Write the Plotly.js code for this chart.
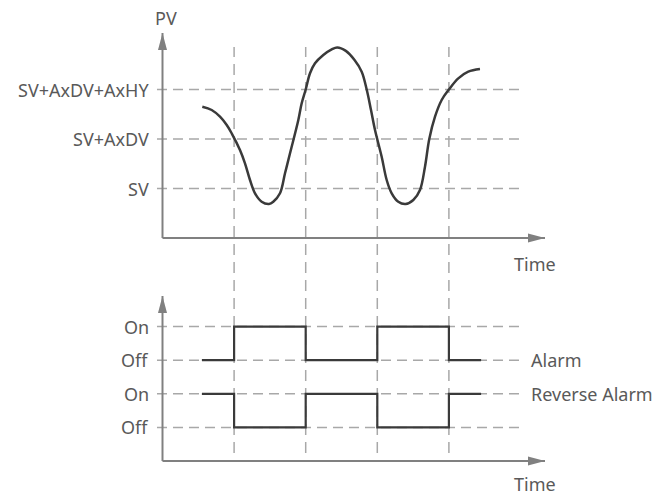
<!DOCTYPE html>
<html>
<head>
<meta charset="utf-8">
<script src="https://cdn.plot.ly/plotly-3.0.1.min.js"></script>
<style>html,body{margin:0;padding:0;background:#fff;}#chart{width:665px;height:497px;}</style>
</head>
<body>
<div id="chart"></div>
<script>
// ---- data ----
const pvTime = [0.556, 0.687, 0.803, 0.897, 0.966, 1.082, 1.152, 1.222, 1.292, 1.385, 1.487, 1.547, 1.641, 1.711, 1.781, 1.897, 1.944, 2.0, 2.06, 2.13, 2.246, 2.363, 2.44, 2.56, 2.682, 2.782, 2.852, 2.912, 2.968, 3.061, 3.131, 3.201, 3.293, 3.395, 3.503, 3.596, 3.666, 3.726, 3.806, 3.899, 4.0, 4.131, 4.271, 4.434];
const pvValue = [2.653, 2.586, 2.451, 2.283, 2.115, 1.778, 1.509, 1.172, 0.903, 0.733, 0.687, 0.733, 0.903, 1.307, 1.711, 2.384, 2.721, 3.0, 3.327, 3.529, 3.697, 3.81, 3.85, 3.78, 3.596, 3.36, 3.0, 2.586, 2.182, 1.642, 1.172, 0.903, 0.733, 0.687, 0.768, 0.97, 1.44, 2.0, 2.451, 2.788, 3.0, 3.226, 3.36, 3.414];
const pvLevels = [1, 2, 3];
const pvLabels = ["SV", "SV+AxDV", "SV+AxDV+AxHY"];
const eventTimes = [1, 2, 3, 4];
const stepTime = [0.55, 1, 2, 3, 4, 4.45];
const alarmState = [0, 1, 0, 1, 0, 0];
const reverseState = [1, 0, 1, 0, 1, 1];
const stateLevels = [1, 2, 3, 4];
const stateLabels = ["Off", "On", "Off", "On"];
const seriesNames = ["Alarm", "Reverse Alarm"];
const axisNames = {pv: "PV", time: "Time"};

// ---- geometry ----
const W = 665, H = 497;
const x0px = 162.5, xUnit = 71.6;
const topBottomPx = 250;
const top0px = 238, topUnit = 49.5;
const bot0px = 461, botUnit = 33.6;
const xr = [-x0px / xUnit, (W - x0px) / xUnit];
const topDomain = [1 - topBottomPx / H, 1];
const topRange = [(top0px - topBottomPx) / topUnit, top0px / topUnit];
const botDomain = [0, 1 - topBottomPx / H];
const botRange = [(bot0px - H) / botUnit, (bot0px - topBottomPx) / botUnit];

const xTip = (545 - x0px) / xUnit;
const yTipTop = (top0px - 33) / topUnit;
const yTipBot = (bot0px - 296) / botUnit;
const dashL = -0.077, dashR = 5.06;

const textColor = "#595959";
const axisColor = "#808080";
const dashColor = "#a8a8a8";
const lineColor = "#3a3a3a";
const font = {family: "Noto Sans, sans-serif", size: 18, color: textColor};

// ---- traces ----
const traces = [
  {x: pvTime, y: pvValue, xaxis: "x", yaxis: "y", mode: "lines",
   line: {shape: "spline", smoothing: 1.0, color: lineColor, width: 2.5}, hoverinfo: "skip"},
  {x: stepTime, y: alarmState.map(s => 3 + s), xaxis: "x", yaxis: "y2", mode: "lines",
   line: {shape: "hv", color: lineColor, width: 2.2}, hoverinfo: "skip"},
  {x: stepTime, y: reverseState.map(s => 1 + s), xaxis: "x", yaxis: "y2", mode: "lines",
   line: {shape: "hv", color: lineColor, width: 2.2}, hoverinfo: "skip"}
];

// ---- shapes ----
const shapes = [];
pvLevels.forEach(v => shapes.push({type: "line", xref: "x", yref: "y", x0: dashL, x1: dashR, y0: v, y1: v,
  line: {color: dashColor, width: 1.5, dash: "10px,6px"}, layer: "below"}));
stateLevels.forEach(v => shapes.push({type: "line", xref: "x", yref: "y2", x0: dashL, x1: dashR, y0: v, y1: v,
  line: {color: dashColor, width: 1.5, dash: "10px,6px"}, layer: "below"}));
eventTimes.forEach(t => shapes.push({type: "line", xref: "x", yref: "paper", x0: t, x1: t,
  y0: 1 - 453 / H, y1: 1 - 47 / H, line: {color: dashColor, width: 1.5, dash: "11px,7px"}, layer: "below"}));
// axes
[["y", yTipTop], ["y2", yTipBot]].forEach(([yr, tip]) => {
  shapes.push({type: "line", xref: "x", yref: yr, x0: 0, x1: 0, y0: 0, y1: tip, line: {color: axisColor, width: 2}});
  shapes.push({type: "line", xref: "x", yref: yr, x0: 0, x1: xTip, y0: 0, y1: 0, line: {color: axisColor, width: 2}});
  shapes.push({type: "path", xref: "x", yref: yr, xsizemode: "pixel", ysizemode: "pixel", xanchor: 0, yanchor: tip,
    path: "M0,0 L-4.5,-17 L4.5,-17 Z", fillcolor: axisColor, line: {width: 0}});
  shapes.push({type: "path", xref: "x", yref: yr, xsizemode: "pixel", ysizemode: "pixel", xanchor: xTip, yanchor: 0,
    path: "M0,0 L-17,-4.5 L-17,4.5 Z", fillcolor: axisColor, line: {width: 0}});
});

// ---- annotations ----
const ann = [];
pvLevels.forEach((v, i) => ann.push({x: 0, y: v, xref: "x", yref: "y", text: pvLabels[i], showarrow: false,
  xanchor: "right", yanchor: "middle", xshift: -12, font: font}));
stateLevels.forEach((v, i) => ann.push({x: 0, y: v, xref: "x", yref: "y2", text: stateLabels[i], showarrow: false,
  xanchor: "right", yanchor: "middle", xshift: -12, font: font}));
ann.push({x: dashR, y: 3, xref: "x", yref: "y2", text: seriesNames[0], showarrow: false, xanchor: "left", yanchor: "middle", xshift: 4, font: font});
ann.push({x: dashR, y: 2, xref: "x", yref: "y2", text: seriesNames[1], showarrow: false, xanchor: "left", yanchor: "middle", xshift: 4, font: font});
ann.push({x: 0, y: yTipTop, xref: "x", yref: "y", text: axisNames.pv, showarrow: false, xanchor: "center", yanchor: "bottom", xshift: 3, yshift: 1, font: font});
ann.push({x: 5.2, y: 0, xref: "x", yref: "y", text: axisNames.time, showarrow: false, xanchor: "center", yanchor: "top", yshift: -12, font: font});
ann.push({x: 5.2, y: 0, xref: "x", yref: "y2", text: axisNames.time, showarrow: false, xanchor: "center", yanchor: "top", yshift: -9, font: font});

const layout = {
  width: W, height: H,
  margin: {l: 0, r: 0, t: 0, b: 0, pad: 0},
  paper_bgcolor: "#fff", plot_bgcolor: "#fff",
  showlegend: false,
  xaxis: {range: xr, visible: false, fixedrange: true},
  yaxis: {domain: topDomain, range: topRange, visible: false, fixedrange: true, anchor: "x"},
  yaxis2: {domain: botDomain, range: botRange, visible: false, fixedrange: true, anchor: "x"},
  shapes: shapes,
  annotations: ann
};
Plotly.newPlot("chart", traces, layout, {staticPlot: true, displayModeBar: false});
</script>
</body>
</html>
